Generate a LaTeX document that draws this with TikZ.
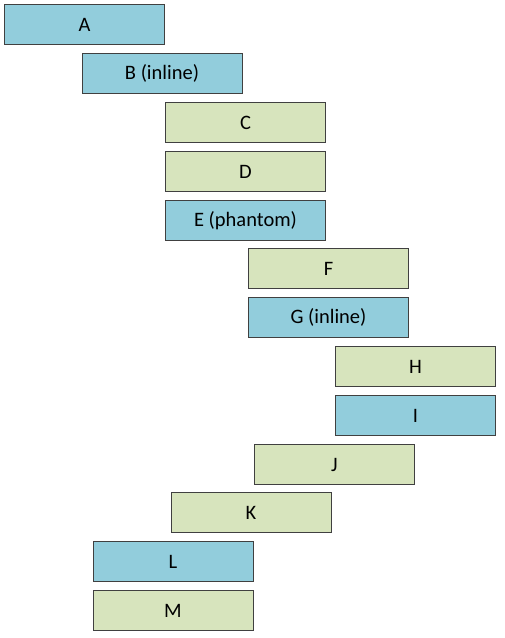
\documentclass[tikz,border=0pt]{standalone}
\usepackage{fontspec}
\setmainfont{Carlito}
\usepackage{tikz}
\usetikzlibrary{positioning}

\definecolor{inlineblue}{HTML}{92CDDC}
\definecolor{plaingreen}{HTML}{D7E4BD}

\begin{document}
\begin{tikzpicture}
[
	x = 1pt, y = -1pt,
	task/.style	= {rectangle, draw = black!75, line width = 1pt, minimum width = 160pt, minimum height = 40pt, inner sep = 0pt, font = \fontsize{20.5}{24}\selectfont},
	blu/.style	= {task, fill = inlineblue},
	grn/.style	= {task, fill = plaingreen},
]

	\useasboundingbox (0,0) rectangle (504,638);

	\node (A) [blu] at (84.5, 24.5) {A};
	\node (B) [blu] at (162, 73.5) {B (inline)};
	%
	\node (C) [grn] at (245.5, 122.5) {C};
	\node (D) [grn] at (245.5, 171.5) {D};
	\node (E) [blu] at (245.5, 220.5) {E (phantom)};
	%
	\node (F) [grn] at (328.5, 268.5) {F};
	\node (G) [blu] at (328.5, 317.5) {G (inline)};
	%
	\node (H) [grn] at (415.5, 366.5) {H};
	\node (I) [blu] at (415.5, 415.5) {I};
	%
	\node (J) [grn] at (334.5, 464.5) {J};
	\node (K) [grn] at (251, 512.5) {K};
	\node (L) [blu] at (173, 561.5) {L};
	\node (M) [grn] at (173, 610.5) {M};

\end{tikzpicture}
\end{document}
